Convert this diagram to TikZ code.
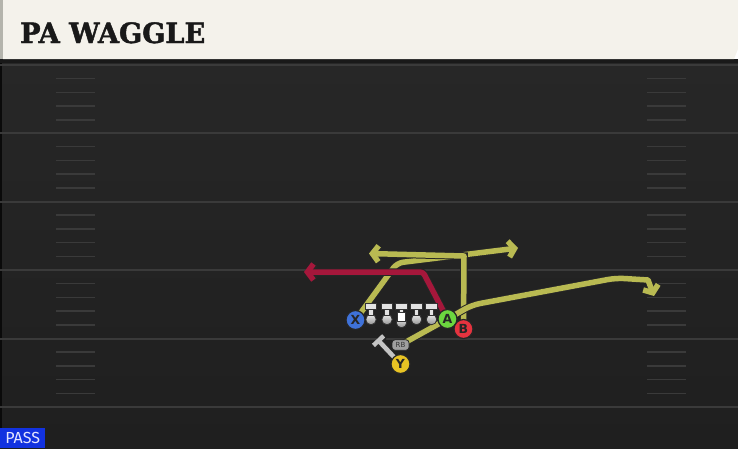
\documentclass[tikz,border=0pt]{standalone}
\usepackage{fontspec}
\usetikzlibrary{arrows.meta}
\newfontfamily\titlefont{DejaVu Serif Bold}[FakeStretch=0.97, FakeBold=1.6]
\newfontfamily\labelfont{DejaVu Sans}
\newfontfamily\tagfont{Fira Sans}
\definecolor{fieldtop}{HTML}{272727}
\definecolor{fieldbot}{HTML}{1F1F1F}
\definecolor{yardgray}{HTML}{3A3A3A}
\definecolor{headcream}{HTML}{F4F2EB}
\definecolor{headedge}{HTML}{B4B4AC}
\definecolor{routeyel}{HTML}{B9BA52}
\definecolor{routered}{HTML}{A5173B}
\definecolor{blockgray}{HTML}{C4C4C4}
\definecolor{xblue}{HTML}{3F72D9}
\definecolor{agreen}{HTML}{6CD63F}
\definecolor{bred}{HTML}{E5333F}
\definecolor{yyel}{HTML}{E8C324}
\definecolor{passblue}{HTML}{1232E0}
\pgfdeclarelayer{field}
\pgfdeclarelayer{routes}
\pgfsetlayers{field,routes,main}

\begin{document}
\begin{tikzpicture}[x=1pt, y=-1pt,
  player/.style={circle, draw=black!85, line width=1.2pt, minimum size=19pt, inner sep=0pt,
    font=\labelfont\bfseries\fontsize{12.5}{12.5}\selectfont, text=black!85},
  lineman/.style={circle, draw=black!80, line width=0.8pt, minimum size=10.5pt, inner sep=0pt,
    top color=white!85!gray, bottom color=gray!85},
  tbar/.style={draw=black!80, line width=0.7pt, fill=white!78!gray},
  route/.style={line width=5.5pt, draw=routeyel, line join=round,
    preaction={draw=black!85, line width=7.5pt}},
  redroute/.style={line width=5.5pt, draw=routered, line join=round,
    preaction={draw=black!85, line width=7.5pt}},
  tip/.style={-{Straight Barb[length=6pt,width=16pt]}},
  hash/.style={draw=yardgray, line width=1.5pt},
  yard/.style={draw=yardgray, line width=2pt}]
\useasboundingbox (0,0) rectangle (738,448);

% Field
\begin{pgfonlayer}{field}
\shade[top color=fieldtop, bottom color=fieldbot] (0,59) rectangle (738,448);
\fill[black!75!fieldtop] (0,59) rectangle (2,448);
\foreach \yy in {65,133,201.5,270,338.5,407}
  \draw[yard] (0,\yy) -- (738,\yy);
\foreach \yy in {65,133,201.5,270,338.5}
  \foreach \k in {13.7,27.4,41.1,54.8} {
    \draw[hash] (56,\yy+\k) -- (95,\yy+\k);
    \draw[hash] (647,\yy+\k) -- (686,\yy+\k);
  }
% Header
\fill[black!90] (0,59) rectangle (738,63);
\fill[headcream] (3,0) -- (738,0) -- (738,49) -- (734,59) -- (3,59) -- cycle;
\fill[headedge] (0,0) rectangle (3,59);
\end{pgfonlayer}

\node[anchor=base west, inner sep=0pt, text=black!90,
  font=\titlefont\fontsize{28}{28}\selectfont] (title) at (20,43) {PA WAGGLE};
\node[anchor=south west, fill=passblue, text=white!90!blue, inner sep=0pt,
  minimum width=45pt, minimum height=20pt,
  font=\tagfont\fontsize{16}{16}\selectfont] (tag) at (0,448) {PASS};

% Line
\foreach \nm/\xx in {lt/371,lg/387,rg/416.5,rt/431.5} {
  \node[lineman] (\nm) at (\xx,319.5) {};
  \fill[tbar] (\xx-2.3,315) rectangle (\xx+2.3,307);
  \fill[tbar] (\xx-5.8,303.5) rectangle (\xx+5.8,309);
}
\node[lineman] (ctr) at (401.5,322.5) {};
\fill[tbar] (399.2,313) rectangle (403.8,307);
\fill[tbar] (395.7,303.5) rectangle (407.3,309);
\node[draw=black!80, line width=0.7pt, fill=white, minimum width=8.5pt, minimum height=9pt,
  inner sep=0pt] (snap) at (401.5,316.5) {};

% Players
\node[player, fill=xblue] (X) at (355.5,320) {X};
\node[player, fill=agreen] (A) at (447.5,319) {A};
\node[player, fill=bred] (B) at (463.5,329) {B};
\node[player, fill=yyel] (Y) at (400.5,364) {Y};
\node[draw=black!85, line width=0.8pt, fill=gray!75, rounded corners=3pt,
  minimum width=17pt, minimum height=10.5pt, inner sep=0pt, text=black!80,
  font=\labelfont\fontsize{7}{7}\selectfont] (RB) at (400.5,345) {RB};

% Route ends
\coordinate (endx) at (518,248);
\coordinate (endb) at (369,253.5);
\coordinate (endrb) at (654,296);
\coordinate (enda) at (304,272);
\coordinate (blk) at (377,339);

% Routes
\begin{pgfonlayer}{routes}
\draw[line width=4.5pt, draw=blockgray, -{Bar[width=14pt]},
  preaction={draw=black!85, line width=6.5pt}] (Y.center) -- (blk);
\draw[route, tip, rounded corners=6pt] (X.center) -- (397,263) -- (endx);
\draw[route, tip] (B.center) -- (464,256) -- (endb);
\draw[route, tip, rounded corners=8pt] (RB.center) -- (A.center) -- (472,305)
  -- (616,278) [sharp corners] -- (648,280) -- (endrb);
\draw[redroute, tip, rounded corners=3pt] (A.center) -- (423,272) -- (enda);
\end{pgfonlayer}
\end{tikzpicture}
\end{document}
